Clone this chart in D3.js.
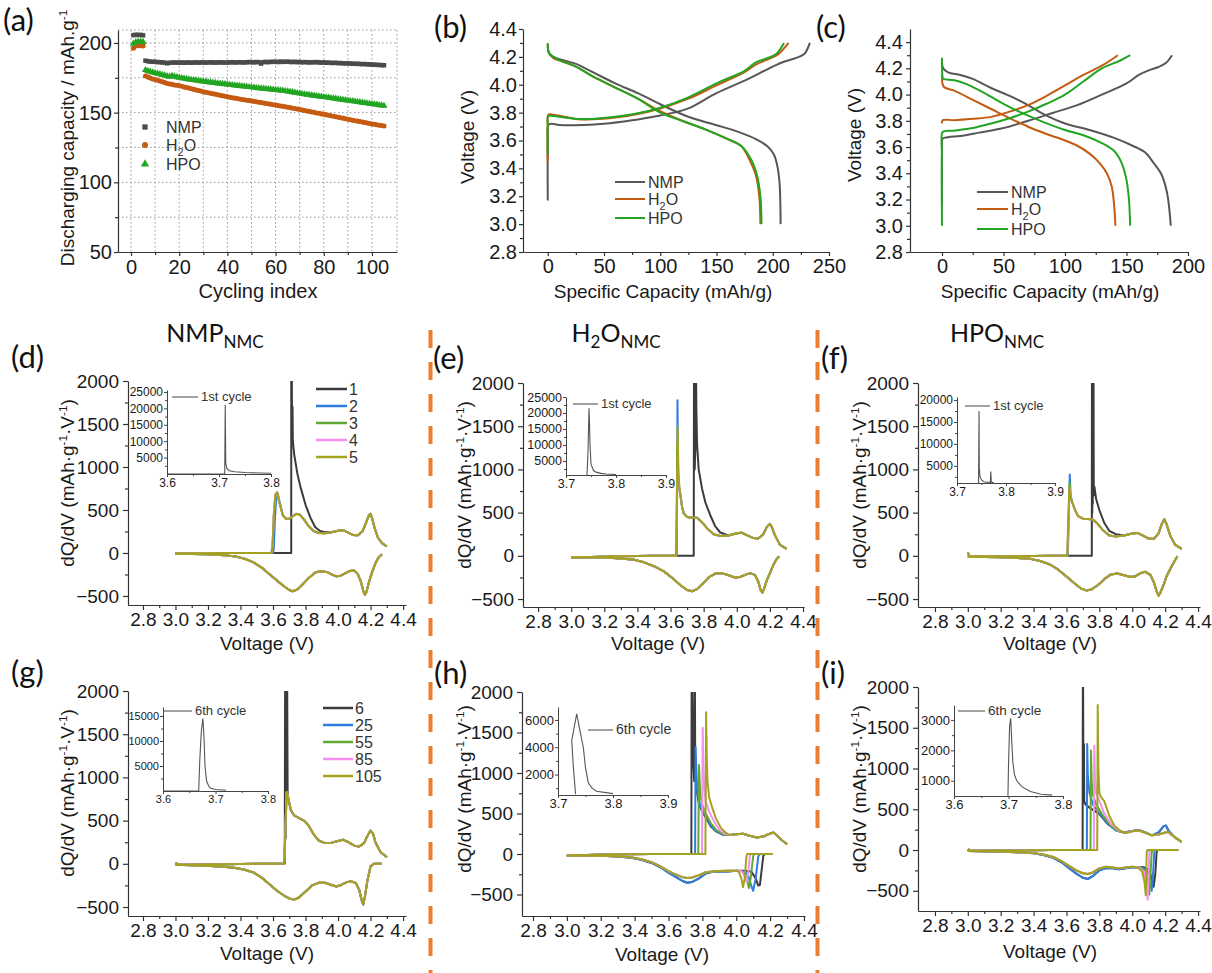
<!DOCTYPE html>
<html lang="en">
<head>
<meta charset="UTF-8">
<title>Cycling, voltage profiles and dQ/dV of NMC electrodes</title>
<style>
  body { margin: 0; background: #fff; overflow: hidden; }
  svg { display: block; }
  .ax path, .ax line { stroke: #333; stroke-width: 1.2px; }
  .axi path, .axi line { stroke: #444; stroke-width: 1px; }
  .ax text, .axi text { fill: #1a1a1a; }
</style>
</head>
<body>
<script src="https://d3js.org/d3.v7.min.js"></script>
<script>
// ---------- (a) discharge capacity per cycle (mAh/g) ----------
const cycleIndex = d3.range(1, 106);
const nmpCap = [205.6, 205.9, 205.7, 205.8, 205.5,
  187.3, 186.9, 186.6, 186.5, 186.4, 186.3, 186.2, 186.0, 185.9, 185.4,
  185.8, 185.9, 186.0, 185.9, 185.9, 186.0, 185.8, 185.9, 186.0, 185.8,
  185.9, 186.1, 185.9, 186.0, 186.0, 185.9, 186.0, 186.1, 186.0, 185.9,
  186.0, 186.1, 186.0, 185.9, 186.0, 186.1, 186.2, 186.0, 186.1, 186.2,
  186.1, 186.0, 186.2, 186.3, 186.2, 186.1, 186.3, 186.2, 185.2, 186.3,
  186.4, 186.2, 186.5, 186.4, 186.5, 186.3, 186.6, 186.4, 186.5, 186.6,
  186.4, 186.3, 186.5, 186.2, 186.4, 186.1, 186.3, 186.2, 186.0, 186.2,
  186.1, 186.3, 186.0, 185.9, 186.1, 185.8, 185.9, 185.7, 185.6, 185.8,
  185.5, 185.6, 185.4, 185.3, 185.5, 185.2, 185.1, 185.0, 185.1, 184.9,
  184.8, 184.9, 184.7, 184.6, 184.5, 184.4, 184.3, 184.2, 184.1, 184.0];
const h2oCap = [196.2, 197.8, 198.1, 198.0, 197.9,
  176.3, 175.5, 174.9, 174.2, 173.8, 173.2, 172.7, 172.1, 171.6, 170.9,
  170.5, 170.3, 169.9, 169.6, 169.3, 168.9, 168.4, 168.0, 167.6, 167.2,
  166.7, 166.3, 165.9, 165.5, 165.0, 164.6, 164.3, 163.9, 163.5, 163.2,
  162.8, 162.4, 162.1, 161.7, 161.4, 161.0, 160.7, 160.4, 160.1, 159.8,
  159.5, 159.2, 158.9, 158.7, 158.4, 158.1, 157.8, 157.5, 157.2, 156.9,
  156.6, 156.3, 156.0, 155.7, 155.4, 155.1, 154.8, 154.5, 154.2, 153.9,
  153.6, 153.2, 152.9, 152.6, 152.2, 151.9, 151.6, 151.2, 150.9, 150.5,
  150.2, 149.8, 149.5, 149.1, 148.8, 148.4, 148.1, 147.7, 147.4, 147.0,
  146.7, 146.3, 146.0, 145.6, 145.3, 144.9, 144.6, 144.2, 143.9, 143.6,
  143.2, 142.9, 142.5, 142.2, 141.9, 141.6, 141.3, 141.0, 140.7, 140.4];
const hpoCap = [199.5, 200.6, 200.9, 201.0, 200.8,
  180.6, 180.0, 179.4, 178.9, 178.4, 178.0, 177.6, 177.1, 176.7, 176.2,
  175.8, 176.3, 176.0, 175.5, 175.1, 174.8, 174.5, 174.2, 173.9, 173.6,
  173.4, 173.1, 172.9, 172.6, 172.4, 172.2, 171.9, 171.7, 171.5, 171.3,
  171.0, 170.8, 170.6, 170.4, 170.2, 170.0, 169.8, 169.6, 169.4, 169.2,
  169.0, 168.8, 168.6, 168.4, 168.2, 168.0, 167.8, 167.6, 167.4, 167.2,
  167.0, 166.8, 166.7, 166.5, 166.3, 166.1, 165.9, 165.8, 165.5, 165.3,
  165.0, 164.7, 164.4, 164.1, 163.8, 163.5, 163.2, 162.9, 162.7, 162.4,
  162.2, 161.9, 161.7, 161.5, 161.2, 161.0, 160.7, 160.5, 160.2, 160.0,
  159.7, 159.5, 159.2, 159.0, 158.7, 158.5, 158.2, 158.0, 157.7, 157.5,
  157.2, 157.0, 156.7, 156.5, 156.2, 156.0, 155.7, 155.4, 155.2, 154.9];

// ---------- (b) first cycle, [capacity mAh/g, voltage V] ----------
const bNmpCharge = [[0,3.17],[0,3.6],[0.5,3.71],[3,3.72],[10,3.712],[25,3.71],[50,3.72],[75,3.745],[100,3.78],[112,3.8],[125,3.83],[150,3.94],[175,4.03],[200,4.13],[210,4.165],[220,4.19],[228,4.22],[233,4.3]];
const bNmpDis = [[0,4.28],[1,4.23],[5,4.2],[12,4.18],[25,4.15],[40,4.09],[60,4.01],[80,3.94],[100,3.86],[125,3.77],[150,3.71],[170,3.66],[185,3.61],[195,3.56],[201,3.5],[204,3.42],[206,3.3],[207,3.0]];
const bH2oCharge = [[0,3.45],[0,3.7],[0.5,3.785],[5,3.785],[15,3.77],[25,3.755],[40,3.752],[60,3.765],[80,3.79],[100,3.83],[125,3.9],[150,3.995],[175,4.09],[185,4.145],[195,4.18],[205,4.22],[214,4.3]];
const bH2oDis = [[0,4.29],[1,4.23],[5,4.19],[12,4.17],[25,4.13],[40,4.06],[60,3.98],[80,3.9],[100,3.81],[120,3.74],[140,3.68],[160,3.61],[172,3.56],[180,3.45],[185,3.35],[188,3.2],[189,3.0]];
const bHpoCharge = [[0,3.5],[0,3.7],[0.5,3.775],[5,3.775],[15,3.765],[25,3.755],[40,3.755],[60,3.77],[80,3.795],[100,3.835],[125,3.91],[150,4.01],[175,4.1],[185,4.16],[195,4.19],[203,4.22],[210,4.3]];
const bHpoDis = [[0,4.3],[1,4.23],[5,4.2],[12,4.17],[25,4.13],[40,4.06],[60,3.98],[80,3.9],[100,3.8],[120,3.74],[140,3.68],[160,3.61],[172,3.56],[181,3.46],[186,3.35],[189,3.2],[190,3.0]];

// ---------- (c) later cycle ----------
const cNmpCharge = [[0,3.15],[0,3.55],[0.5,3.665],[5,3.675],[15,3.685],[30,3.71],[50,3.745],[70,3.8],[90,3.86],[110,3.92],[130,4.0],[150,4.085],[160,4.15],[168,4.185],[176,4.21],[182,4.24],[187,4.3]];
const cNmpDis = [[0,4.24],[1,4.2],[5,4.17],[15,4.15],[25,4.12],[40,4.05],[55,3.99],[70,3.92],[85,3.84],[100,3.78],[120,3.73],[140,3.67],[155,3.61],[165,3.56],[172,3.48],[178,3.4],[183,3.25],[186,3.0]];
const cH2oCharge = [[0,3.78],[0.5,3.805],[10,3.805],[25,3.815],[40,3.83],[55,3.87],[70,3.92],[85,3.99],[100,4.07],[115,4.15],[130,4.22],[143,4.3]];
const cH2oDis = [[0,4.15],[0.5,4.08],[2,4.055],[10,4.03],[25,3.96],[40,3.89],[55,3.82],[70,3.755],[85,3.7],[100,3.65],[110,3.61],[120,3.55],[128,3.48],[134,3.4],[138,3.3],[140,3.15],[141,3.0]];
const cHpoCharge = [[0,3.0],[0,3.6],[0.5,3.715],[10,3.725],[25,3.745],[40,3.78],[55,3.82],[70,3.87],[85,3.93],[100,4.0],[115,4.1],[130,4.2],[145,4.26],[153,4.3]];
const cHpoDis = [[0,4.28],[0.3,4.15],[1,4.12],[10,4.11],[20,4.08],[35,4.01],[50,3.93],[65,3.86],[80,3.8],[100,3.73],[115,3.69],[130,3.63],[140,3.57],[146,3.48],[150,3.35],[152,3.2],[153,3.0]];

// ---------- (d) NMP cycles 1-5, [V, dQ/dV] ----------
const dHead1 = [[3.0,-5],[3.3,0],[3.712,0],[3.714,20000],[3.716,1850],[3.718,1500],[3.72,1700],[3.722,1300],[3.73,1150],[3.75,920],[3.77,760],[3.8,560],[3.83,410],[3.86,300],[3.89,255],[3.92,240]];
const dHead2 = [[3.0,-5],[3.3,0],[3.6,0],[3.605,60],[3.612,400],[3.62,650],[3.63,690],[3.64,600],[3.66,440]];
const dHead3 = [[3.0,-5],[3.3,0],[3.59,0],[3.597,80],[3.605,450],[3.615,680],[3.625,705],[3.635,620],[3.66,440]];
const dMid = [[3.68,395],[3.70,400],[3.72,425],[3.745,455],[3.765,445],[3.79,390],[3.82,310],[3.85,255],[3.88,232],[3.92,228]];
const dTail = [[3.96,240],[4.0,258],[4.03,265],[4.06,240],[4.09,210],[4.12,205],[4.15,250],[4.17,340],[4.19,440],[4.2,455],[4.21,400],[4.225,290],[4.245,180],[4.27,115],[4.3,75]];
const dDis = [[4.27,-15],[4.25,-50],[4.23,-120],[4.21,-220],[4.19,-340],[4.175,-450],[4.165,-485],[4.155,-440],[4.14,-330],[4.12,-240],[4.1,-205],[4.07,-210],[4.04,-240],[4.01,-268],[3.99,-272],[3.96,-250],[3.93,-220],[3.89,-212],[3.86,-228],[3.82,-290],[3.78,-370],[3.75,-425],[3.72,-445],[3.7,-430],[3.67,-390],[3.63,-330],[3.58,-250],[3.53,-170],[3.48,-110],[3.43,-70],[3.38,-45],[3.3,-25],[3.2,-15],[3.0,-8]];
const dInset = [[3.6,0],[3.711,0],[3.712,21000],[3.7125,12000],[3.713,3300],[3.715,1700],[3.72,1000],[3.73,700],[3.75,450],[3.78,300],[3.8,250]];

// ---------- (e) H2O cycles 1-5 ----------
const eHead1 = [[3.0,-20],[3.3,-5],[3.5,0],[3.74,0],[3.742,2600],[3.746,1000],[3.75,1250],[3.752,2600],[3.756,1700],[3.76,1300],[3.77,1000],[3.79,780],[3.81,620],[3.84,470],[3.87,340],[3.9,270]];
const eHead2 = [[3.0,-20],[3.3,-5],[3.5,0],[3.638,0],[3.642,1800],[3.646,900],[3.652,800],[3.66,700]];
const eHead3 = [[3.0,-20],[3.3,-5],[3.5,0],[3.636,0],[3.641,1300],[3.646,950],[3.652,780],[3.66,700]];
const eHead4 = [[3.0,-20],[3.3,-5],[3.5,0],[3.634,0],[3.64,1000],[3.646,850],[3.652,760],[3.66,700]];
const eHead5 = [[3.0,-20],[3.3,-5],[3.5,0],[3.632,0],[3.638,600],[3.643,1500],[3.648,950],[3.655,760],[3.66,700]];
const eMid = [[3.67,560],[3.68,490],[3.7,450],[3.73,440],[3.76,440],[3.79,390],[3.82,320],[3.86,250],[3.9,230]];
const eTail = [[3.95,235],[4.0,262],[4.03,268],[4.06,240],[4.1,205],[4.13,200],[4.16,250],[4.18,330],[4.2,370],[4.21,340],[4.23,240],[4.26,130],[4.3,80]];
const eDis = [[4.255,-5],[4.24,-40],[4.22,-110],[4.2,-200],[4.18,-290],[4.165,-380],[4.155,-425],[4.145,-400],[4.13,-300],[4.11,-220],[4.08,-200],[4.05,-220],[4.02,-245],[3.99,-250],[3.95,-225],[3.91,-200],[3.87,-205],[3.83,-250],[3.79,-330],[3.76,-385],[3.73,-410],[3.7,-395],[3.66,-340],[3.62,-270],[3.56,-180],[3.5,-120],[3.44,-75],[3.38,-45],[3.3,-30],[3.2,-20],[3.0,-15]];
const eInset = [[3.742,600],[3.744,8000],[3.746,21500],[3.747,17000],[3.748,10000],[3.75,4000],[3.755,2000],[3.76,1500],[3.77,1100],[3.78,900],[3.8,750]];

// ---------- (f) HPO cycles 1-5 ----------
const fHead1 = [[3.0,40],[3.01,-5],[3.3,-5],[3.5,0],[3.754,0],[3.755,2600],[3.757,500],[3.758,2600],[3.76,600],[3.761,2600],[3.763,800],[3.764,2600],[3.766,700],[3.77,800],[3.78,660],[3.8,530],[3.83,380],[3.86,290],[3.9,250]];
const fHead2 = [[3.0,40],[3.01,-5],[3.3,-5],[3.5,0],[3.608,0],[3.615,500],[3.62,940],[3.625,700],[3.635,620]];
const fHead3 = [[3.0,40],[3.01,-5],[3.3,-5],[3.5,0],[3.606,0],[3.613,450],[3.619,850],[3.625,680],[3.635,620]];
const fHead4 = [[3.0,40],[3.01,-5],[3.3,-5],[3.5,0],[3.605,0],[3.612,400],[3.618,780],[3.625,660],[3.635,620]];
const fHead5 = [[3.0,40],[3.01,-5],[3.3,-5],[3.5,0],[3.604,0],[3.611,400],[3.617,800],[3.624,660],[3.635,620]];
const fMid = [[3.65,540],[3.67,460],[3.7,430],[3.73,425],[3.76,420],[3.79,370],[3.82,300],[3.86,235],[3.9,225]];
const fTail = [[3.95,235],[4.0,258],[4.03,265],[4.06,240],[4.1,200],[4.13,195],[4.16,260],[4.18,370],[4.195,425],[4.21,360],[4.23,240],[4.26,130],[4.3,80]];
const fDis = [[4.275,-5],[4.26,-50],[4.24,-120],[4.21,-230],[4.19,-340],[4.17,-430],[4.16,-460],[4.15,-420],[4.13,-300],[4.11,-220],[4.08,-185],[4.05,-200],[4.02,-235],[3.99,-245],[3.95,-225],[3.91,-205],[3.87,-215],[3.83,-270],[3.79,-340],[3.75,-390],[3.72,-400],[3.69,-380],[3.65,-320],[3.6,-240],[3.55,-160],[3.5,-100],[3.44,-60],[3.38,-35],[3.3,-25],[3.2,-15],[3.0,-10]];
const fInset = [[3.744,1100],[3.745,17500],[3.7455,4500],[3.747,2500],[3.75,1800],[3.755,1400],[3.76,1300],[3.768,1250],[3.769,3700],[3.770,1300],[3.775,1200]];

// ---------- (g) NMP cycles 6-105 ----------
const gHead1 = [[3.0,10],[3.02,-10],[3.3,-5],[3.5,0],[3.672,0],[3.675,2600],[3.678,300],[3.681,2600],[3.684,1500],[3.686,2600],[3.69,800]];
const gHead = [[3.0,10],[3.02,-10],[3.3,-5],[3.5,0],[3.668,0],[3.672,150],[3.678,500],[3.684,830],[3.69,800]];
const gTail = [[3.7,700],[3.71,620],[3.73,560],[3.76,530],[3.79,500],[3.82,440],[3.85,340],[3.88,270],[3.92,240],[3.96,245],[4.0,265],[4.03,278],[4.06,255],[4.1,210],[4.13,200],[4.16,240],[4.18,320],[4.2,385],[4.215,350],[4.23,250],[4.26,140],[4.3,75]];
const gDis = [[4.27,0],[4.22,0],[4.2,-30],[4.18,-200],[4.165,-380],[4.155,-470],[4.145,-420],[4.13,-300],[4.11,-225],[4.08,-200],[4.05,-215],[4.02,-245],[3.99,-262],[3.96,-245],[3.92,-220],[3.88,-220],[3.84,-250],[3.8,-320],[3.76,-390],[3.73,-415],[3.7,-400],[3.67,-370],[3.63,-320],[3.58,-240],[3.53,-160],[3.48,-100],[3.42,-65],[3.36,-45],[3.28,-30],[3.15,-20],[3.0,-12]];
const gInset = [[3.6,0],[3.668,0],[3.670,6000],[3.673,12000],[3.676,14500],[3.678,11000],[3.68,5000],[3.683,2000],[3.687,1000],[3.69,600],[3.7,300],[3.72,150]];

// ---------- (h) H2O cycles 6-105 ----------
const hBase = [[3.0,-20],[3.2,-5],[3.5,0]];
const hHead1 = [[3.735,0],[3.737,2600],[3.745,1200],[3.752,900],[3.755,2600],[3.758,1000],[3.765,800],[3.78,620],[3.8,520],[3.82,450],[3.85,340],[3.88,280],[3.92,240]];
const hHead2 = [[3.757,0],[3.76,1320],[3.765,1000],[3.77,800],[3.78,650],[3.8,540],[3.82,470],[3.85,350],[3.88,285],[3.92,240]];
const hHead3 = [[3.776,0],[3.78,1100],[3.785,850],[3.79,700],[3.8,600],[3.82,500],[3.85,380],[3.88,300],[3.92,245]];
const hHead4 = [[3.798,0],[3.802,1560],[3.806,1100],[3.81,850],[3.82,650],[3.84,520],[3.87,400],[3.9,300],[3.93,250]];
const hHead5 = [[3.818,0],[3.822,1750],[3.826,1200],[3.83,900],[3.84,700],[3.86,560],[3.88,440],[3.91,320],[3.94,260]];
const hTail = [[3.96,235],[4.0,245],[4.04,250],[4.08,225],[4.12,205],[4.16,215],[4.19,245],[4.22,265],[4.24,230],[4.27,170],[4.3,120]];
const hDip1 = [[4.215,0],[4.17,0],[4.16,-20],[4.15,-200],[4.14,-380],[4.13,-390],[4.115,-300],[4.09,-220],[4.05,-205]];
const hDip2 = [[4.215,0],[4.14,0],[4.13,-30],[4.115,-300],[4.10,-455],[4.09,-400],[4.07,-260],[4.05,-215]];
const hDip3 = [[4.215,0],[4.105,0],[4.1,-30],[4.085,-300],[4.075,-420],[4.065,-330],[4.05,-240],[4.03,-210]];
const hDip4 = [[4.215,0],[4.085,0],[4.08,-30],[4.07,-250],[4.06,-340],[4.05,-280],[4.035,-220],[4.02,-205]];
const hDip5 = [[4.215,0],[4.065,0],[4.06,-30],[4.05,-300],[4.04,-410],[4.03,-300],[4.015,-220],[4.0,-205]];
const hLowDeep = [[4.0,-205],[3.95,-215],[3.9,-215],[3.86,-220],[3.82,-240],[3.78,-300],[3.74,-345],[3.71,-355],[3.68,-330],[3.64,-280],[3.6,-230],[3.55,-160],[3.5,-110],[3.44,-70],[3.38,-45],[3.3,-30],[3.2,-22],[3.0,-15]];
const hLowShallow = [[3.98,-205],[3.95,-205],[3.9,-210],[3.86,-215],[3.82,-225],[3.78,-260],[3.74,-290],[3.71,-295],[3.68,-285],[3.64,-250],[3.6,-210],[3.55,-150],[3.5,-100],[3.44,-65],[3.38,-40],[3.3,-28],[3.2,-20],[3.0,-15]];
const hInset = [[3.732,550],[3.728,2500],[3.725,4500],[3.734,6450],[3.740,5200],[3.746,4000],[3.750,2500],[3.755,1400],[3.762,1000],[3.770,770],[3.80,600]];

// ---------- (i) HPO cycles 6-105 ----------
const iBase = [[3.0,10],[3.02,-10],[3.3,-5],[3.5,0]];
const iHead1 = [[3.698,0],[3.7,2600],[3.703,800],[3.706,1300],[3.708,600],[3.715,560],[3.74,520],[3.77,480],[3.8,440],[3.85,320],[3.9,245]];
const iHead2 = [[3.724,0],[3.726,1300],[3.73,900],[3.74,700],[3.76,560],[3.8,450],[3.85,330],[3.9,240]];
const iHead3 = [[3.746,0],[3.749,1220],[3.753,850],[3.76,680],[3.78,560],[3.82,430],[3.86,320],[3.91,235]];
const iHead4 = [[3.766,0],[3.769,1280],[3.773,900],[3.78,700],[3.8,600],[3.83,450],[3.87,320],[3.92,235]];
const iHead5 = [[3.787,0],[3.79,1780],[3.794,1000],[3.8,700],[3.81,650],[3.83,600],[3.86,420],[3.89,300],[3.93,230]];
const iTailHigh = [[3.95,215],[4.0,235],[4.04,245],[4.08,215],[4.12,180],[4.16,215],[4.19,290],[4.205,300],[4.22,240],[4.25,170],[4.3,100]];
const iTailLow = [[3.96,210],[4.0,230],[4.04,240],[4.08,210],[4.12,180],[4.16,190],[4.2,215],[4.22,220],[4.24,185],[4.27,140],[4.3,100]];
const iDip1 = [[4.28,0],[4.152,0],[4.148,-30],[4.14,-300],[4.13,-450],[4.12,-350],[4.1,-240],[4.07,-210],[4.0,-210]];
const iDip2 = [[4.28,0],[4.138,0],[4.134,-30],[4.125,-350],[4.118,-500],[4.11,-380],[4.09,-250],[4.06,-215],[4.0,-210]];
const iDip3 = [[4.28,0],[4.122,0],[4.118,-30],[4.11,-350],[4.104,-545],[4.095,-400],[4.08,-260],[4.05,-215],[4.0,-205]];
const iDip4 = [[4.28,0],[4.108,0],[4.104,-30],[4.098,-400],[4.094,-610],[4.085,-420],[4.07,-260],[4.04,-210],[4.0,-205]];
const iDip5 = [[4.28,0],[4.092,0],[4.088,-30],[4.085,-350],[4.082,-555],[4.075,-400],[4.06,-260],[4.03,-210],[4.0,-205]];
const iLowDeep = [[3.96,-225],[3.92,-235],[3.88,-225],[3.84,-220],[3.8,-250],[3.76,-320],[3.73,-355],[3.7,-340],[3.66,-290],[3.62,-230],[3.57,-150],[3.52,-95],[3.46,-60],[3.4,-40],[3.3,-28],[3.2,-20],[3.0,-12]];
const iLowShallow = [[3.96,-215],[3.92,-225],[3.88,-215],[3.84,-205],[3.8,-225],[3.76,-275],[3.73,-295],[3.7,-285],[3.66,-250],[3.62,-200],[3.57,-135],[3.52,-85],[3.46,-55],[3.4,-38],[3.3,-26],[3.2,-18],[3.0,-12]];
const iInset = [[3.699,510],[3.700,1500],[3.702,2800],[3.704,3050],[3.706,2300],[3.708,1600],[3.711,1200],[3.715,1000],[3.725,800],[3.74,650],[3.76,560],[3.78,530]];

// ---------- labels and ticks ----------
const firstCycles = ["1", "2", "3", "4", "5"];
const laterCycles = ["6", "25", "55", "85", "105"];
const voltTicks = [2.8, 3.0, 3.2, 3.4, 3.6, 3.8, 4.0, 4.2, 4.4];
const voltMinor = [2.9, 3.1, 3.3, 3.5, 3.7, 3.9, 4.1, 4.3];
const dqTicks = [-500, 0, 500, 1000, 1500, 2000];
const dqMinor = [-250, 250, 750, 1250, 1750];

const AXIS_FONT = "'Liberation Sans', Arial, sans-serif";
const TITLE_FONT = "Lato, 'Open Sans', sans-serif";
const colNmp = "#575757", colH2o = "#c55a11", colHpo = "#22a522";
const cycleColors = ["#3b3b3b", "#2f7de1", "#62a830", "#f58ff0", "#a4a31f"];

const svg = d3.select("body").append("svg").attr("width", 1212).attr("height", 973);
svg.append("rect").attr("width", 1212).attr("height", 973).attr("fill", "#fff");

let clipCount = 0;
function axesBox(o) {
  const x = d3.scaleLinear().domain(o.xd).range([o.l, o.r]);
  const y = d3.scaleLinear().domain(o.yd).range([o.b, o.t]);
  const cls = o.cls || "ax";
  const major = o.major || 5, minor = o.minor || 3;
  const g = svg.append("g");
  const under = g.append("g");
  const font = sel => sel.attr("font-family", AXIS_FONT).attr("font-size", o.fs);
  g.append("g").attr("class", cls).attr("transform", `translate(0,${o.b})`)
    .call(d3.axisBottom(x).tickValues(o.xm).tickSize(minor).tickFormat(""))
    .call(s => s.select(".domain").remove());
  g.append("g").attr("class", cls).attr("transform", `translate(${o.l},0)`)
    .call(d3.axisLeft(y).tickValues(o.ym).tickSize(minor).tickFormat(""))
    .call(s => s.select(".domain").remove());
  g.append("g").attr("class", cls).attr("transform", `translate(0,${o.b})`)
    .call(d3.axisBottom(x).tickValues(o.xt).tickSize(major).tickSizeOuter(0)
      .tickPadding(o.xpad ?? 3).tickFormat(o.xf))
    .call(font);
  g.append("g").attr("class", cls).attr("transform", `translate(${o.l},0)`)
    .call(d3.axisLeft(y).tickValues(o.yt).tickSize(major).tickSizeOuter(0)
      .tickPadding(o.ypad ?? 3).tickFormat(o.yf))
    .call(font);
  const id = "clip" + clipCount++;
  svg.append("clipPath").attr("id", id).append("rect")
    .attr("x", o.l).attr("y", o.t).attr("width", o.r - o.l).attr("height", o.b - o.t);
  const plot = g.append("g").attr("clip-path", `url(#${id})`);
  return { x, y, g, under, plot };
}

// text with sub/superscripts: parts = [[text, "sub"|"sup"|null], ...]
function rich(t, parts, small, shift) {
  let cur = 0;
  parts.forEach(([s, k]) => {
    const off = k === "sub" ? shift : k === "sup" ? -shift : 0;
    const ts = t.append("tspan").attr("dy", off - cur).text(s);
    if (k) ts.attr("font-size", small);
    cur = off;
  });
  return t;
}

function label(x, y, parts, size, opts = {}) {
  const t = svg.append("text").attr("x", x).attr("y", y)
    .attr("font-family", opts.family || AXIS_FONT).attr("font-size", size)
    .attr("fill", opts.fill || "#1a1a1a").attr("text-anchor", opts.anchor || "start");
  return rich(t, parts, opts.small || size * 0.68, opts.shift || size * 0.3);
}

function yTitle(x, y, parts, size) {
  const t = svg.append("text").attr("transform", `translate(${x},${y}) rotate(-90)`)
    .attr("font-family", AXIS_FONT).attr("font-size", size).attr("fill", "#1a1a1a")
    .attr("text-anchor", "middle");
  return rich(t, parts, size * 0.62, size * 0.38);
}

function letter(x, y, s) {
  svg.append("text").attr("x", x).attr("y", y).attr("font-family", TITLE_FONT)
    .attr("font-size", 31).attr("fill", "#111").text(s);
}

const f1 = d3.format(".1f"), fd = d3.format("d");

// ================= (a) =================
const A = axesBox({ l: 118, r: 397, t: 30, b: 252, xd: [-5.4, 110.4], yd: [50, 209.3],
  xt: [0, 20, 40, 60, 80, 100], xm: [10, 30, 50, 70, 90], yt: [50, 100, 150, 200], ym: [75, 125, 175],
  xf: fd, yf: fd, fs: 20, xpad: 4, ypad: 2, major: 4 });
const gridX = [0, 10, 20, 30, 40, 50, 60, 70, 80, 90, 100, 110.4];
const gridY = [75, 100, 125, 150, 175, 200, 209.3];
A.under.selectAll(".gx").data(gridX).join("line")
  .attr("x1", d => A.x(d)).attr("x2", d => A.x(d)).attr("y1", 30).attr("y2", 252)
  .attr("stroke", "#999").attr("stroke-width", 1).attr("stroke-dasharray", "1.5,2.5");
A.under.selectAll(".gy").data(gridY).join("line")
  .attr("y1", d => A.y(d)).attr("y2", d => A.y(d)).attr("x1", 118).attr("x2", 397)
  .attr("stroke", "#999").attr("stroke-width", 1).attr("stroke-dasharray", "1.5,2.5");

const capSeries = [
  { vals: nmpCap, type: d3.symbolSquare, size: 20, color: "#4a4a4a", name: [["NMP", null]] },
  { vals: h2oCap, type: d3.symbolCircle, size: 20, color: colH2o, name: [["H", null], ["2", "sub"], ["O", null]] },
  { vals: hpoCap, type: d3.symbolTriangle, size: 22, color: colHpo, name: [["HPO", null]] }
];
capSeries.forEach((s, k) => {
  const sym = d3.symbol().type(s.type).size(s.size)();
  A.plot.append("g").selectAll("path").data(s.vals).join("path")
    .attr("d", sym).attr("fill", s.color)
    .attr("transform", (d, i) => `translate(${A.x(cycleIndex[i])},${A.y(d)})`);
  const ly = [127, 145, 164][k];
  svg.append("path").attr("d", d3.symbol().type(s.type).size(s.size + 8)())
    .attr("fill", s.color).attr("transform", `translate(145,${ly})`);
  label(166, ly + 6, s.name, 16, { fill: "#333" });
});
yTitle(74, 138, [["Discharging capacity / mAh.g", null], ["-1", "sup"]], 19);
label(258, 298, [["Cycling index", null]], 20, { anchor: "middle" });
letter(3, 31, "(a)");

// ================= (b) and (c) =================
const vCurve = (box) => d3.line().curve(d3.curveCatmullRom.alpha(0.5))
  .x(d => box.x(d[0])).y(d => box.y(d[1]));
function drawProfiles(box, sets) {
  const line = vCurve(box);
  sets.forEach(s => {
    [s.ch, s.dis].forEach(arr => box.plot.append("path").datum(arr).attr("d", line)
      .attr("fill", "none").attr("stroke", s.color).attr("stroke-width", 2));
  });
}
function profileLegend(x0, x1, ys) {
  const names = [[["NMP", null]], [["H", null], ["2", "sub"], ["O", null]], [["HPO", null]]];
  [colNmp, colH2o, colHpo].forEach((c, i) => {
    svg.append("line").attr("x1", x0).attr("x2", x1).attr("y1", ys[i]).attr("y2", ys[i])
      .attr("stroke", c).attr("stroke-width", 2);
    label(x1 + 3, ys[i] + 6, names[i], 16, { fill: "#333" });
  });
}

const B = axesBox({ l: 523, r: 829, t: 29, b: 252, xd: [-22, 250], yd: [2.8, 4.4],
  xt: [0, 50, 100, 150, 200, 250], xm: [25, 75, 125, 175, 225],
  yt: [2.8, 3.0, 3.2, 3.4, 3.6, 3.8, 4.0, 4.2, 4.4], ym: [2.9, 3.1, 3.3, 3.5, 3.7, 3.9, 4.1, 4.3],
  xf: fd, yf: f1, fs: 20, xpad: 3, ypad: 2, major: 4 });
drawProfiles(B, [
  { ch: bNmpCharge, dis: bNmpDis, color: colNmp },
  { ch: bH2oCharge, dis: bH2oDis, color: colH2o },
  { ch: bHpoCharge, dis: bHpoDis, color: colHpo }
]);
profileLegend(615, 645, [182, 199, 218]);
yTitle(474, 137, [["Voltage (V)", null]], 19);
label(663, 298, [["Specific Capacity (mAh/g)", null]], 19, { anchor: "middle" });
letter(434, 38, "(b)");

const C = axesBox({ l: 910, r: 1188, t: 29, b: 252, xd: [-26, 200], yd: [2.8, 4.5],
  xt: [0, 50, 100, 150, 200], xm: [25, 75, 125, 175],
  yt: [2.8, 3.0, 3.2, 3.4, 3.6, 3.8, 4.0, 4.2, 4.4], ym: [2.9, 3.1, 3.3, 3.5, 3.7, 3.9, 4.1, 4.3],
  xf: fd, yf: f1, fs: 20, xpad: 3, ypad: 3, major: 4 });
drawProfiles(C, [
  { ch: cNmpCharge, dis: cNmpDis, color: colNmp },
  { ch: cH2oCharge, dis: cH2oDis, color: colH2o },
  { ch: cHpoCharge, dis: cHpoDis, color: colHpo }
]);
profileLegend(977, 1008, [192, 209, 229]);
yTitle(861, 135, [["Voltage (V)", null]], 19);
label(1050, 298, [["Specific Capacity (mAh/g)", null]], 19, { anchor: "middle" });
letter(816, 38, "(c)");

// ================= dQ/dV panels =================
function dqBox(l, r, t, b, xd, yd) {
  return axesBox({ l, r, t, b, xd, yd, xt: voltTicks, xm: voltMinor, yt: dqTicks, ym: dqMinor,
    xf: f1, yf: fd, fs: 19, xpad: 3, ypad: 4, major: 5 });
}
function drawCycles(box, charges, discharges) {
  const line = d3.line().x(d => box.x(d[0])).y(d => box.y(d[1]));
  charges.forEach((c, i) => {
    [discharges[i], c].forEach(arr => box.plot.append("path").datum(arr).attr("d", line)
      .attr("fill", "none").attr("stroke", cycleColors[i]).attr("stroke-width", 2)
      .attr("stroke-linejoin", "round"));
  });
}
function inset(o, curve, legendTxt, lx0, lx1, ly, tfs) {
  const box = axesBox(Object.assign({ cls: "axi", xf: f1, yf: fd, fs: o.fs || 11, xpad: 1, ypad: 1,
    major: 3, minor: 2 }, o));
  const line = d3.line().x(d => box.x(d[0])).y(d => box.y(d[1]));
  box.plot.append("path").datum(curve).attr("d", line).attr("fill", "none")
    .attr("stroke", "#555").attr("stroke-width", 1.1);
  svg.append("line").attr("x1", lx0).attr("x2", lx1).attr("y1", ly).attr("y2", ly)
    .attr("stroke", "#555").attr("stroke-width", 1.1);
  label(lx1 + 3, ly + 4, [[legendTxt, null]], tfs, { fill: "#333" });
}
function cycleLegend(x0, x1, ys, names) {
  names.forEach((n, i) => {
    svg.append("line").attr("x1", x0).attr("x2", x1).attr("y1", ys[i]).attr("y2", ys[i])
      .attr("stroke", cycleColors[i]).attr("stroke-width", 2.5);
    label(x1 + 2, ys[i] + 5.5, [[n, null]], 16, { fill: "#333" });
  });
}
const dqTitle = [["dQ/dV (mAh·g", null], ["-1", "sup"], ["·V", null], ["-1", "sup"], [")", null]];

// (d)
const D = dqBox(128, 406, 381, 605, [2.708, 4.418], [-605, 2000]);
drawCycles(D,
  [dHead1.concat(dTail), dHead2.concat(dMid, dTail), dHead3.concat(dMid, dTail),
   dHead3.concat(dMid, dTail), dHead3.concat(dMid, dTail)],
  [dDis, dDis, dDis, dDis, dDis]);
inset({ l: 167, r: 271, t: 390, b: 474, xd: [3.6, 3.8], yd: [0, 25600], xt: [3.6, 3.7, 3.8], xm: [3.65, 3.75],
  yt: [5000, 10000, 15000, 20000, 25000], ym: [2500, 7500, 12500, 17500, 22500], fs: 12 },
  dInset, "1st cycle", 172, 198, 397, 13);
cycleLegend(316, 347, [389, 406, 423, 440, 457], firstCycles);
yTitle(74, 483, dqTitle, 19);
label(267, 650, [["Voltage (V)", null]], 19, { anchor: "middle" });
label(215, 342, [["NMP", null], ["NMC", "sub"]], 25, { family: TITLE_FONT, fill: "#111", small: 17, shift: 6 }).attr("text-anchor", "middle");
letter(11, 368, "(d)");

// (e)
const E = dqBox(523, 804, 383, 607, [2.709, 4.406], [-592, 2000]);
drawCycles(E,
  [eHead1.concat(eTail), eHead2.concat(eMid, eTail), eHead3.concat(eMid, eTail),
   eHead4.concat(eMid, eTail), eHead5.concat(eMid, eTail)],
  [eDis, eDis, eDis, eDis, eDis]);
inset({ l: 566, r: 666, t: 397, b: 475, xd: [3.7, 3.9], yd: [600, 25000], xt: [3.7, 3.8, 3.9], xm: [3.75, 3.85],
  yt: [5000, 10000, 15000, 20000, 25000], ym: [2500, 7500, 12500, 17500, 22500], fs: 12.5 },
  eInset, "1st cycle", 573, 598, 404, 13);
yTitle(471, 485, dqTitle, 19);
label(658, 650, [["Voltage (V)", null]], 19, { anchor: "middle" });
label(616, 342, [["H", null], ["2", "sub"], ["O", null], ["NMC", "sub"]], 25, { family: TITLE_FONT, fill: "#111", small: 17, shift: 6 }).attr("text-anchor", "middle");
letter(433, 369, "(e)");

// (f)
const F = dqBox(918, 1200, 383, 607, [2.697, 4.412], [-592, 2000]);
drawCycles(F,
  [fHead1.concat(fTail), fHead2.concat(fMid, fTail), fHead3.concat(fMid, fTail),
   fHead4.concat(fMid, fTail), fHead5.concat(fMid, fTail)],
  [fDis, fDis, fDis, fDis, fDis]);
inset({ l: 957, r: 1055, t: 397, b: 483, xd: [3.7, 3.9], yd: [1100, 20700], xt: [3.7, 3.8, 3.9], xm: [3.75, 3.85],
  yt: [5000, 10000, 15000, 20000], ym: [2500, 7500, 12500, 17500], fs: 12 },
  fInset, "1st cycle", 965, 990, 406, 13);
yTitle(866, 485, dqTitle, 19);
label(1050, 650, [["Voltage (V)", null]], 19, { anchor: "middle" });
label(997, 342, [["HPO", null], ["NMC", "sub"]], 25, { family: TITLE_FONT, fill: "#111", small: 17, shift: 6 }).attr("text-anchor", "middle");
letter(821, 369, "(f)");

// (g)
const G = dqBox(128, 406, 691, 916, [2.708, 4.418], [-604, 2000]);
drawCycles(G,
  [gHead1.concat(gTail), gHead.concat(gTail), gHead.concat(gTail), gHead.concat(gTail), gHead.concat(gTail)],
  [gDis, gDis, gDis, gDis, gDis]);
inset({ l: 163, r: 268, t: 707, b: 791, xd: [3.6, 3.8], yd: [0, 16800], xt: [3.6, 3.7, 3.8], xm: [3.65, 3.75],
  yt: [5000, 10000, 15000], ym: [2500, 7500, 12500], fs: 11 },
  gInset, "6th cycle", 163, 192, 711, 13);
cycleLegend(323, 353, [708, 725, 742, 759, 776], laterCycles);
yTitle(74, 793, dqTitle, 19);
label(267, 960, [["Voltage (V)", null]], 19, { anchor: "middle" });
letter(11, 683, "(g)");

// (h)
const Hb = dqBox(522, 805, 692, 916, [2.735, 4.406], [-765, 2000]);
drawCycles(Hb,
  [hBase.concat(hHead1, hTail), hBase.concat(hHead2, hTail), hBase.concat(hHead3, hTail),
   hBase.concat(hHead4, hTail), hBase.concat(hHead5, hTail)],
  [hDip1.concat(hLowDeep), hDip2.concat(hLowDeep), hDip3.concat(hLowShallow),
   hDip4.concat(hLowShallow), hDip5.concat(hLowShallow)]);
inset({ l: 558, r: 668, t: 707, b: 795, xd: [3.7, 3.9], yd: [500, 6950], xt: [3.7, 3.8, 3.9], xm: [3.75, 3.85],
  yt: [2000, 4000, 6000], ym: [1000, 3000, 5000], fs: 13 },
  hInset, "6th cycle", 588, 613, 730, 14);
yTitle(471, 789, dqTitle, 19);
label(662, 961, [["Voltage (V)", null]], 19, { anchor: "middle" });
letter(434, 684, "(h)");

// (i)
const I = dqBox(918, 1200, 687, 911, [2.697, 4.412], [-748, 2000]);
drawCycles(I,
  [iBase.concat(iHead1, iTailHigh), iBase.concat(iHead2, iTailHigh), iBase.concat(iHead3, iTailLow),
   iBase.concat(iHead4, iTailLow), iBase.concat(iHead5, iTailLow)],
  [iDip1.concat(iLowDeep), iDip2.concat(iLowDeep), iDip3.concat(iLowShallow),
   iDip4.concat(iLowShallow), iDip5.concat(iLowShallow)]);
inset({ l: 954, r: 1063, t: 705, b: 796, xd: [3.6, 3.8], yd: [500, 3490], xt: [3.6, 3.7, 3.8], xm: [3.65, 3.75],
  yt: [1000, 2000, 3000], ym: [1500, 2500], fs: 13 },
  iInset, "6th cycle", 958, 985, 711, 13.5);
yTitle(866, 789, dqTitle, 19);
label(1050, 958, [["Voltage (V)", null]], 19, { anchor: "middle" });
letter(821, 684, "(i)");

// ---------- orange dashed separators ----------
[430.5, 817.5].forEach(xv => {
  svg.append("line").attr("x1", xv).attr("x2", xv).attr("y1", 330).attr("y2", 973)
    .attr("stroke", "#ed7d31").attr("stroke-width", 4).attr("stroke-dasharray", "18,14");
});
</script>
</body>
</html>
